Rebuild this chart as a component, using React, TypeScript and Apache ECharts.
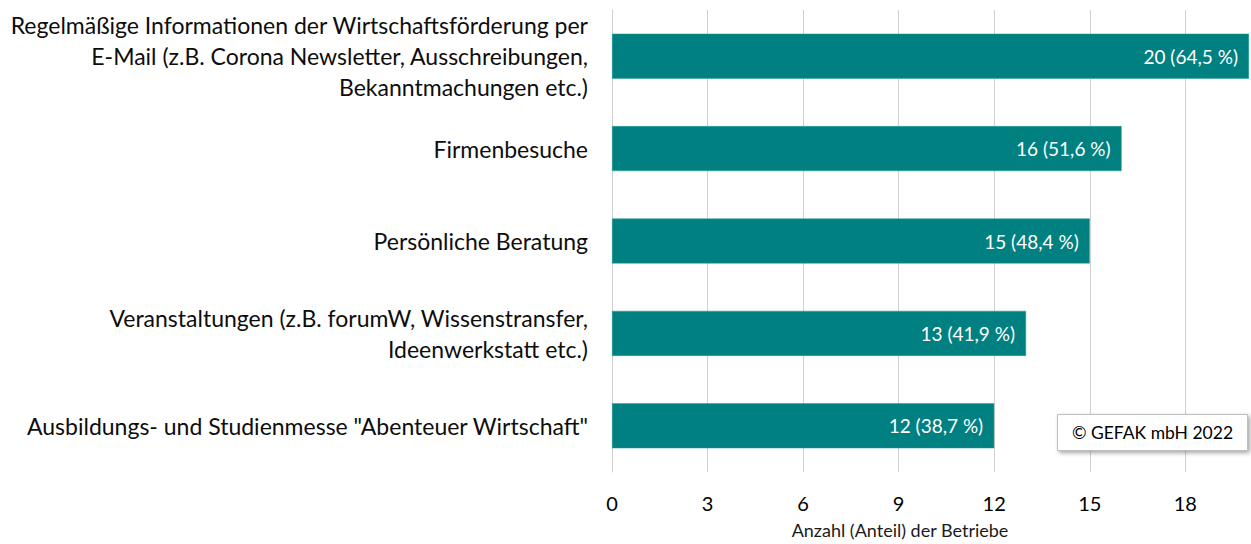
import React, { useEffect, useRef } from "react";
import * as echarts from "echarts";

const categories = [
  "Regelmäßige Informationen der Wirtschaftsförderung per\nE-Mail (z.B. Corona Newsletter, Ausschreibungen,\nBekanntmachungen etc.)",
  "Firmenbesuche",
  "Persönliche Beratung",
  "Veranstaltungen (z.B. forumW, Wissenstransfer,\nIdeenwerkstatt etc.)",
  "Ausbildungs- und Studienmesse \"Abenteuer Wirtschaft\"",
];
const counts = [20, 16, 15, 13, 12];
const shares = ["64,5", "51,6", "48,4", "41,9", "38,7"];
const xTicks = [0, 3, 6, 9, 12, 15, 18];
const axisName = "Anzahl (Anteil) der Betriebe";
const copyright = "© GEFAK mbH 2022";

const FONT = "Lato, 'Open Sans', sans-serif";

export default function App() {
  const ref = useRef<HTMLDivElement>(null);
  useEffect(() => {
    if (!ref.current) return;
    const chart = echarts.init(ref.current, undefined, { renderer: "svg" });
    chart.setOption({
      animation: false,
      backgroundColor: "#ffffff",
      textStyle: { fontFamily: FONT },
      grid: { left: 612, right: 2, top: 10, bottom: 71, containLabel: false },
      xAxis: {
        type: "value",
        min: xTicks[0],
        max: 20,
        interval: 3,
        name: axisName,
        nameLocation: "middle",
        nameGap: 49,
        nameTextStyle: { fontSize: 18, color: "#1a1a1a", fontFamily: FONT, padding: [0, 61, 0, 0] },
        axisLine: { show: false },
        axisTick: { show: false },
        axisLabel: {
          fontSize: 20,
          color: "#000",
          margin: 21,
          fontFamily: FONT,
          showMaxLabel: false,
          formatter: (v: number) => (xTicks.includes(v) ? String(v) : ""),
        },
        splitLine: { show: true, showMaxLine: false, lineStyle: { color: "#d0d0d0", width: 1 } },
      },
      yAxis: {
        type: "category",
        inverse: true,
        data: categories,
        axisTick: { show: false },
        axisLine: { show: true, lineStyle: { color: "#d0d0d0", width: 1 } },
        axisLabel: {
          fontSize: 23,
          lineHeight: 31,
          color: "#0d0d0d",
          margin: 24,
          align: "right",
          fontFamily: FONT,
        },
      },
      series: [
        {
          type: "bar",
          data: counts,
          barWidth: 45,
          itemStyle: { color: "#008080", borderColor: "#2a9a9a", borderWidth: 0.5 },
          label: {
            show: true,
            position: "insideRight",
            distance: 11,
            color: "#ffffff",
            fontSize: 19,
            fontFamily: FONT,
            formatter: (p: any) => `${counts[p.dataIndex]} (${shares[p.dataIndex]} %)`,
          },
        },
      ],
      graphic: [
        {
          type: "group",
          left: 1057,
          top: 414,
          z: 100,
          children: [
            {
              type: "rect",
              z: 100,
              shape: { x: 0, y: 0, width: 190, height: 36 },
              style: {
                fill: "#ffffff",
                stroke: "#bfbfbf",
                lineWidth: 1,
                shadowBlur: 4,
                shadowOffsetX: 2,
                shadowOffsetY: 2,
                shadowColor: "rgba(0,0,0,0.35)",
              },
            },
            {
              type: "text",
              z: 101,
              x: 95,
              y: 18,
              style: {
                text: copyright,
                fontSize: 17.5,
                fontFamily: FONT,
                fill: "#000",
                align: "center",
                verticalAlign: "middle",
              },
            },
          ],
        },
      ],
    });
    return () => chart.dispose();
  }, []);
  return (
    <div
      ref={ref}
      style={{ position: "absolute", left: 0, top: 0, width: 1251, height: 544 }}
    />
  );
}
